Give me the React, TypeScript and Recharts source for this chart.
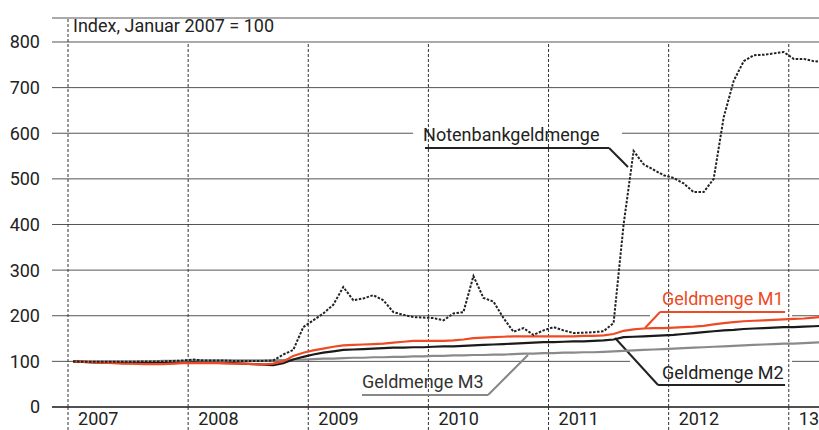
import { LineChart, Line, XAxis, YAxis, CartesianGrid, ReferenceLine, ReferenceArea, Label } from "recharts";

const yearStarts = [0, 12, 24, 36, 48, 60, 72];
const yearLabels = ["2007", "2008", "2009", "2010", "2011", "2012", "13"];
const yTicks = [0, 100, 200, 300, 400, 500, 600, 700, 800];

// Monatswerte Jan 2007 bis Apr 2013, Index Jan 2007 = 100
const m1 = [
  100, 99, 98, 97, 96, 95, 95, 94, 94, 94, 95, 96,
  96, 96, 96, 96, 95, 95, 94, 93, 95, 100, 112, 119,
  124, 128, 132, 135, 136, 137, 138, 139, 141, 143, 145, 145,
  145, 145, 146, 148, 151, 152, 153, 154, 155, 155, 155, 155,
  155, 155, 155, 156, 156, 157, 160, 167, 170, 172, 173, 173,
  174, 175, 176, 178, 181, 184, 186, 188, 189, 190, 191, 192,
  193, 194, 196, 198,
];
const m2 = [
  100, 99, 98, 97, 97, 96, 96, 96, 96, 96, 96, 97,
  98, 97, 97, 96, 96, 95, 94, 93, 92, 96, 104, 110,
  115, 119, 122, 125, 126, 127, 128, 129, 130, 130, 131, 131,
  132, 133, 133, 134, 135, 136, 137, 138, 139, 140, 141, 142,
  142, 143, 144, 144, 145, 146, 148, 153, 154, 155, 156, 157,
  158, 160, 162, 164, 166, 168, 169, 171, 172, 173, 174, 175,
  175, 176, 177, 178,
];
const m3 = [
  100, 100, 100, 100, 100, 100, 100, 100, 100, 101, 101, 101,
  102, 102, 102, 102, 102, 102, 102, 102, 102, 103, 104, 104,
  105, 106, 106, 107, 108, 108, 109, 109, 110, 110, 111, 111,
  112, 112, 113, 113, 114, 114, 115, 115, 116, 117, 117, 118,
  118, 119, 119, 120, 120, 121, 122, 123, 124, 125, 126, 127,
  128, 129, 130, 131, 132, 133, 134, 135, 136, 137, 138, 139,
  139, 140, 141, 142,
];
const notenbank = [
  100, 99, 99, 99, 99, 99, 99, 100, 100, 100, 101, 102,
  104, 102, 102, 102, 101, 101, 101, 101, 102, 115, 125, 175,
  190, 205, 224, 263, 234, 238, 245, 234, 208, 202, 197, 196,
  195, 190, 205, 208, 287, 239, 231, 195, 165, 173, 158, 168,
  175, 168, 162, 163, 164, 166, 184, 400, 561, 532, 520, 508,
  502, 490, 471, 471, 500, 635, 715, 758, 771, 772, 775, 778,
  763, 763, 758, 756,
];

const data = m1.map((v, i) => ({
  t: i + 0.5,
  m1: v,
  m2: m2[i],
  m3: m3[i],
  nb: notenbank[i],
}));

const FONT = "Roboto, sans-serif";
const RED = "#ee4a24";
const DASH = "3 2";

function YearTick(props: any) {
  const { x, y, payload } = props;
  const idx = yearStarts.indexOf(payload.value);
  return (
    <g>
      <line x1={x} y1={y} x2={x} y2={y + 23} stroke="#333" strokeDasharray={DASH} />
      <text x={x + 10} y={y + 18} fill="#222" fontSize={18} fontFamily={FONT}>
        {yearLabels[idx]}
      </text>
    </g>
  );
}

export default function App() {
  return (
    <div style={{ position: "absolute", left: 0, top: 0, width: 819, height: 430, background: "#fff", fontFamily: FONT }}>
      <LineChart width={819} height={430} data={data} margin={{ top: 18, right: 0, bottom: 0, left: 0 }}>
        <CartesianGrid vertical={false} stroke="#555" />
        <XAxis
          type="number"
          dataKey="t"
          domain={[-1.6, 75.02]}
          allowDataOverflow
          ticks={yearStarts}
          interval={0}
          tick={<YearTick />}
          tickLine={false}
          tickSize={0}
          tickMargin={0}
          height={23}
          axisLine={{ stroke: "#333", strokeWidth: 1.5 }}
        />
        <YAxis
          type="number"
          domain={[0, 852.6]}
          ticks={yTicks}
          interval={0}
          width={52}
          axisLine={false}
          tickLine={false}
          tickMargin={6}
          tick={{ fill: "#222", fontSize: 18, fontFamily: FONT }}
        />
        <ReferenceLine x={0} stroke="#333" strokeDasharray={DASH} />
        {yearStarts.slice(1).map((x) => (
          <ReferenceLine key={x} segment={[{ x, y: 0 }, { x, y: 800 }]} stroke="#333" strokeDasharray={DASH} />
        ))}

        <ReferenceArea x1={0} x2={30} y1={820} y2={852} fill="#fff" fillOpacity={0} stroke="none">
          <Label value="Index, Januar 2007 = 100" position="insideLeft" offset={5} fill="#222" fontSize={18} fontFamily={FONT} />
        </ReferenceArea>

        <ReferenceArea x1={34.47} x2={55.34} y1={563.3} y2={629} fill="#fff" fillOpacity={1} stroke="none">
          <Label value="Notenbankgeldmenge" position="insideLeft" offset={10} fill="#222" fontSize={18} fontFamily={FONT} />
        </ReferenceArea>
        <ReferenceArea x1={58.14} x2={72.33} y1={197.3} y2={280} fill="#fff" fillOpacity={1} stroke="none">
          <Label value="Geldmenge M1" position="insideLeft" offset={12} fill={RED} fontSize={18} fontFamily={FONT} />
        </ReferenceArea>
        <ReferenceArea x1={56.14} x2={72.33} y1={37.3} y2={111.8} fill="#fff" fillOpacity={1} stroke="none">
          <Label value="Geldmenge M2" position="insideLeft" offset={32} fill="#222" fontSize={18} fontFamily={FONT} />
        </ReferenceArea>
        <ReferenceArea x1={28.17} x2={43.16} y1={19.7} y2={89.9} fill="#fff" fillOpacity={1} stroke="none">
          <Label value="Geldmenge M3" position="insideLeft" offset={12} fill="#333" fontSize={18} fontFamily={FONT} />
        </ReferenceArea>

        <ReferenceLine segment={[{ x: 35.66, y: 567.7 }, { x: 54.05, y: 567.7 }]} stroke="#222" strokeWidth={2} />
        <ReferenceLine segment={[{ x: 54.05, y: 567.7 }, { x: 55.94, y: 526 }]} stroke="#222" strokeWidth={2} />
        <ReferenceLine segment={[{ x: 57.64, y: 173.2 }, { x: 59.14, y: 208.2 }]} stroke={RED} strokeWidth={2} />
        <ReferenceLine segment={[{ x: 59.14, y: 208.2 }, { x: 71.63, y: 208.2 }]} stroke={RED} strokeWidth={2} />
        <ReferenceLine segment={[{ x: 54.65, y: 151.2 }, { x: 58.94, y: 48.2 }]} stroke="#222" strokeWidth={2} />
        <ReferenceLine segment={[{ x: 58.94, y: 48.2 }, { x: 71.63, y: 48.2 }]} stroke="#222" strokeWidth={2} />
        <ReferenceLine segment={[{ x: 29.37, y: 26.3 }, { x: 41.96, y: 26.3 }]} stroke="#888" strokeWidth={2} />
        <ReferenceLine segment={[{ x: 41.96, y: 26.3 }, { x: 45.95, y: 114 }]} stroke="#888" strokeWidth={2} />

        <Line type="linear" dataKey="m3" stroke="#8a8a8a" strokeWidth={2.2} dot={false} isAnimationActive={false} />
        <Line type="linear" dataKey="m2" stroke="#1a1a1a" strokeWidth={2.2} dot={false} isAnimationActive={false} />
        <Line type="linear" dataKey="m1" stroke={RED} strokeWidth={2.2} dot={false} isAnimationActive={false} />
        <Line type="linear" dataKey="nb" stroke="#222" strokeWidth={2} strokeDasharray="2.5 1.5" dot={false} isAnimationActive={false} />
      </LineChart>
    </div>
  );
}
